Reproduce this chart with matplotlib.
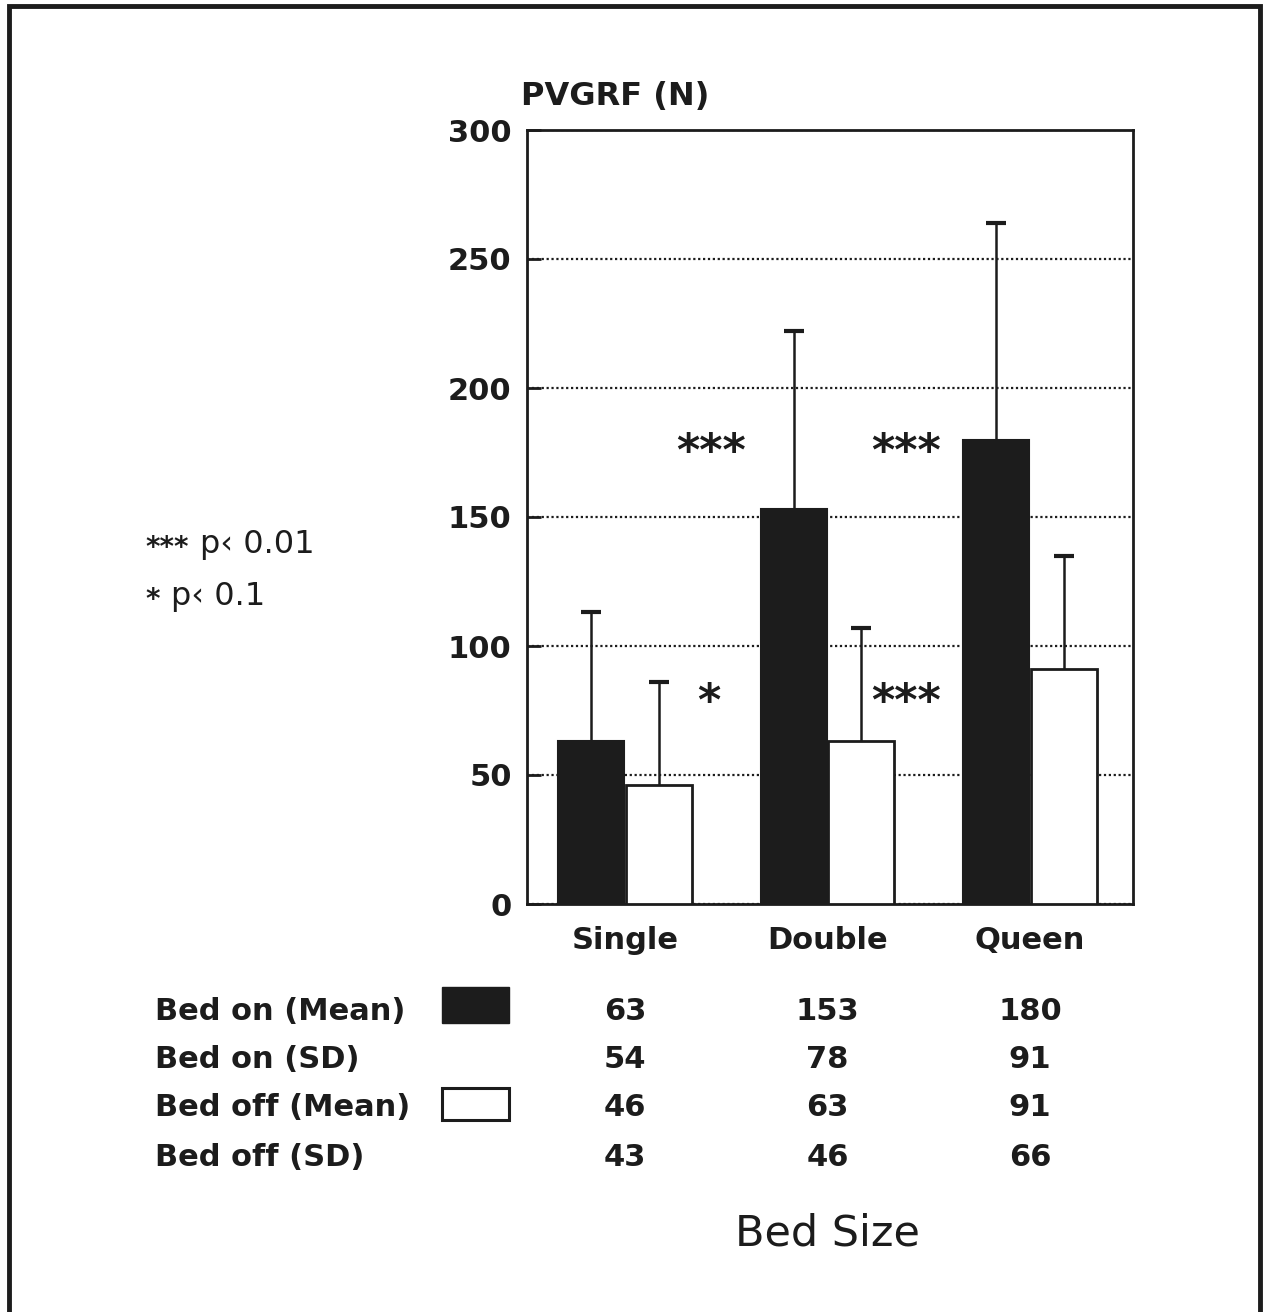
import matplotlib.pyplot as plt
import matplotlib.transforms as mtransforms
from matplotlib.patches import Rectangle
import numpy as np

# bed sizes and the values printed in the table
sizes = ["Single", "Double", "Queen"]
on_mean = [63, 153, 180]
on_sd = [54, 78, 91]
off_mean = [46, 63, 91]
off_sd = [43, 46, 66]

# error bar lengths as drawn on the plot
on_err = [50, 69, 84]
off_err = [40, 44, 44]

yticks = [0, 50, 100, 150, 200, 250, 300]

row_labels = ["Bed on (Mean)", "Bed on (SD)", "Bed off (Mean)", "Bed off (SD)"]
rows = [on_mean, on_sd, off_mean, off_sd]

W, H = 1270, 1312
INK = '#1c1c1c'


def fx(px):
    return px / W


def fy(py):
    return 1 - py / H


def main():
    plt.rcParams['font.family'] = ['DejaVu Sans']
    fig = plt.figure(figsize=(W / 100, H / 100), dpi=100)
    ax = fig.add_axes([fx(527), fy(904), fx(1133) - fx(527), fy(130) - fy(904)])

    x = np.arange(len(sizes))
    bw = 0.325
    off = 0.167

    ax.bar(x - off, on_mean, bw, color=INK, edgecolor=INK, lw=1.5, zorder=3)
    ax.bar(x + off, off_mean, bw, color='white', edgecolor=INK, lw=2, zorder=3)

    # upper half error bars only - hide the lower caps
    for pos, mean, err in [(x - off, on_mean, on_err), (x + off, off_mean, off_err)]:
        eb = ax.errorbar(pos, mean, yerr=[np.zeros(3), err], fmt='none',
                         ecolor=INK, elinewidth=1.8, capsize=7, capthick=3, zorder=4)
        eb[1][0].set_visible(False)

    ax.set_xlim(-0.484, 2.509)
    ax.set_ylim(0, 300)
    ax.set_yticks(yticks)
    ax.set_yticklabels([str(t) for t in yticks], fontsize=22, fontweight='bold')
    ax.set_xticks(x)
    ax.set_xticklabels(sizes, fontsize=22, fontweight='bold')
    ax.tick_params(axis='y', direction='in', length=10, width=2, pad=11, colors=INK)
    ax.tick_params(axis='x', length=0, pad=16, colors=INK)
    for s in ax.spines.values():
        s.set_linewidth(2)
        s.set_color(INK)

    ax.yaxis.grid(True, linestyle=(0, (1, 1.2)), color=INK, lw=1.6)
    ax.set_axisbelow(True)

    fig.text(fx(521), fy(97), "PVGRF (N)", fontsize=23, fontweight='bold',
             ha='left', va='center', color=INK)

    # significance stars
    ax.text(0.425, 175, "***", fontsize=32, fontweight='bold', ha='center', va='center', color=INK)
    ax.text(1.388, 175, "***", fontsize=32, fontweight='bold', ha='center', va='center', color=INK)
    ax.text(0.415, 78, "*", fontsize=32, fontweight='bold', ha='center', va='center', color=INK)
    ax.text(1.388, 78, "***", fontsize=32, fontweight='bold', ha='center', va='center', color=INK)

    # significance key
    fig.text(fx(145), fy(548), "***", fontsize=20, fontweight='bold', ha='left', va='center', color=INK)
    fig.text(fx(200), fy(545), "p\u2039 0.01", fontsize=23, ha='left', va='center', color=INK)
    fig.text(fx(145), fy(600), "*", fontsize=20, fontweight='bold', ha='left', va='center', color=INK)
    fig.text(fx(171), fy(597), "p\u2039 0.1", fontsize=23, ha='left', va='center', color=INK)

    # table under the chart
    blend = mtransforms.blended_transform_factory(ax.transData, fig.transFigure)
    row_y = [1012, 1060, 1108, 1157]
    for lab, vals, yy in zip(row_labels, rows, row_y):
        fig.text(fx(155), fy(yy), lab, fontsize=22, fontweight='bold', ha='left', va='center',
                 color=INK)
        for xi, v in zip(x, vals):
            ax.text(xi, fy(yy), str(v), transform=blend, fontsize=22, fontweight='bold',
                    ha='center', va='center', color=INK)

    fig.add_artist(Rectangle((fx(442), fy(1023)), fx(509) - fx(442), fy(987) - fy(1023),
                             transform=fig.transFigure, facecolor=INK, edgecolor=INK, lw=1))
    fig.add_artist(Rectangle((fx(442), fy(1120)), fx(509) - fx(442), fy(1088) - fy(1120),
                             transform=fig.transFigure, facecolor='white', edgecolor=INK, lw=2.2))

    fig.text(fx(827), fy(1234), "Bed Size", fontsize=31, ha='center', va='center', color=INK)

    # outer frame (bottom edge falls outside the picture)
    fig.add_artist(Rectangle((fx(9), -0.05), fx(1260) - fx(9), fy(6) + 0.05,
                             transform=fig.transFigure, fill=False, edgecolor=INK, lw=3.5))

    fig.savefig("out.png", dpi=100)


if __name__ == "__main__":
    main()
